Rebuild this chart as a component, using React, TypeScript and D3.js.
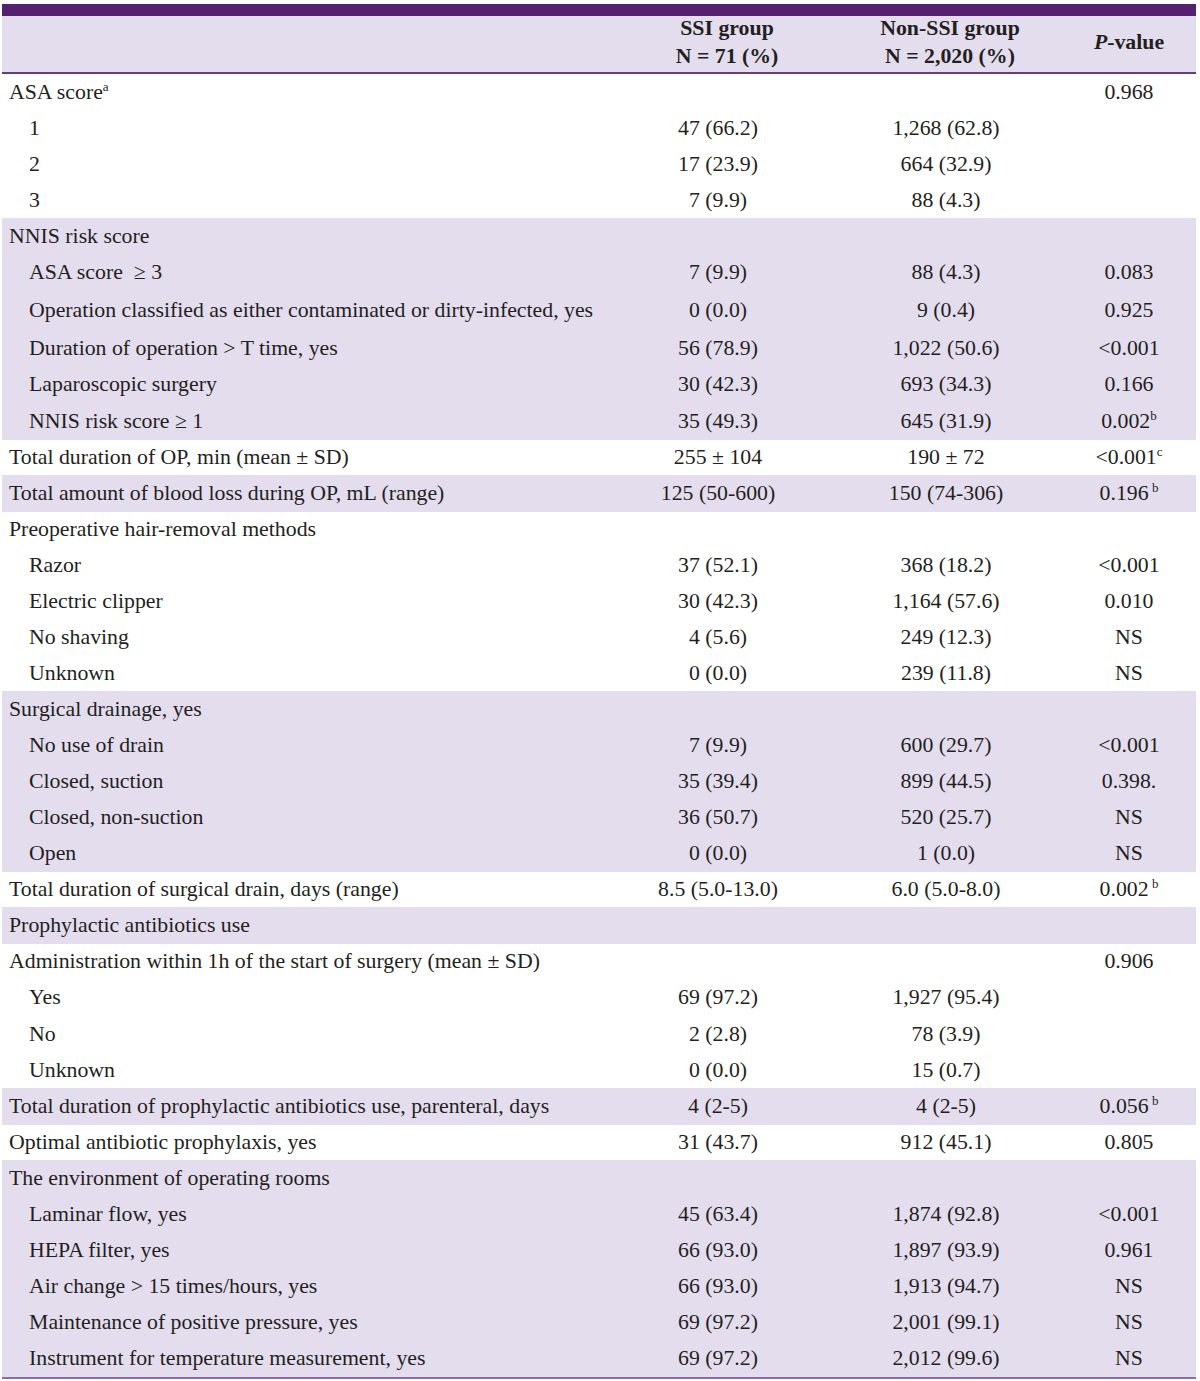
import { useEffect, useRef } from 'react';
import * as d3 from 'd3';

// Table content
const labels = [
  'ASA score', '1', '2', '3',
  'NNIS risk score', 'ASA score \u00a0≥ 3', 'Operation classified as either contaminated or dirty-infected, yes',
  'Duration of operation > T time, yes', 'Laparoscopic surgery', 'NNIS risk score ≥ 1',
  'Total duration of OP, min (mean ± SD)', 'Total amount of blood loss during OP, mL (range)',
  'Preoperative hair-removal methods', 'Razor', 'Electric clipper', 'No shaving', 'Unknown',
  'Surgical drainage, yes', 'No use of drain', 'Closed, suction', 'Closed, non-suction', 'Open',
  'Total duration of surgical drain, days (range)', 'Prophylactic antibiotics use',
  'Administration within 1h of the start of surgery (mean ± SD)', 'Yes', 'No', 'Unknown',
  'Total duration of prophylactic antibiotics use, parenteral, days', 'Optimal antibiotic prophylaxis, yes',
  'The environment of operating rooms', 'Laminar flow, yes', 'HEPA filter, yes',
  'Air change > 15 times/hours, yes', 'Maintenance of positive pressure, yes',
  'Instrument for temperature measurement, yes',
];
const labelNotes = ['a', ...Array(35).fill('')];
const levels = [0, 1, 1, 1, 0, 1, 1, 1, 1, 1, 0, 0, 0, 1, 1, 1, 1, 0, 1, 1, 1, 1, 0, 0, 0, 1, 1, 1, 0, 0, 0, 1, 1, 1, 1, 1];

const ssiValues = [
  '', '47 (66.2)', '17 (23.9)', '7 (9.9)', '', '7 (9.9)', '0 (0.0)', '56 (78.9)', '30 (42.3)', '35 (49.3)',
  '255 ± 104', '125 (50-600)', '', '37 (52.1)', '30 (42.3)', '4 (5.6)', '0 (0.0)', '', '7 (9.9)',
  '35 (39.4)', '36 (50.7)', '0 (0.0)', '8.5 (5.0-13.0)', '', '', '69 (97.2)', '2 (2.8)', '0 (0.0)',
  '4 (2-5)', '31 (43.7)', '', '45 (63.4)', '66 (93.0)', '66 (93.0)', '69 (97.2)', '69 (97.2)',
];
const nonSsiValues = [
  '', '1,268 (62.8)', '664 (32.9)', '88 (4.3)', '', '88 (4.3)', '9 (0.4)', '1,022 (50.6)', '693 (34.3)',
  '645 (31.9)', '190 ± 72', '150 (74-306)', '', '368 (18.2)', '1,164 (57.6)', '249 (12.3)', '239 (11.8)',
  '', '600 (29.7)', '899 (44.5)', '520 (25.7)', '1 (0.0)', '6.0 (5.0-8.0)', '', '', '1,927 (95.4)',
  '78 (3.9)', '15 (0.7)', '4 (2-5)', '912 (45.1)', '', '1,874 (92.8)', '1,897 (93.9)', '1,913 (94.7)',
  '2,001 (99.1)', '2,012 (99.6)',
];
const pValues = [
  '0.968', '', '', '', '', '0.083', '0.925', '<0.001', '0.166', '0.002', '<0.001', '0.196', '',
  '<0.001', '0.010', 'NS', 'NS', '', '<0.001', '0.398.', 'NS', 'NS', '0.002', '', '0.906', '', '', '',
  '0.056', '0.805', '', '<0.001', '0.961', 'NS', 'NS', 'NS',
];
const pNotes = [
  '', '', '', '', '', '', '', '', '', 'b', 'c', ' b', '', '', '', '', '', '', '', '', '', '', ' b', '', '', '', '', '',
  ' b', '', '', '', '', '', '', '',
];
const shadedRows = [4, 5, 6, 7, 8, 9, 11, 17, 18, 19, 20, 21, 23, 28, 30, 31, 32, 33, 34, 35];

const DARK = '#55216f';
const LIGHT = '#e4ddee';
const INK = '#231f20';
const FONT = '"Liberation Serif", "Times New Roman", serif';
const SIZE = 21.8;

export default function App() {
  const svgRef = useRef<SVGSVGElement>(null);

  useEffect(() => {
    document.body.style.margin = '0';
    if (!svgRef.current) return;
    const svg = d3.select(svgRef.current);
    svg.selectAll('*').remove();

    const left = 2;
    const right = 1196;
    const headTop = 16;
    const headBottom = 73;

    // row heights (the "Operation classified" row is a touch taller); snap edges to whole pixels
    const rawHeights = labels.map((_, i) => (i === 6 ? 40 : 36.06));
    const edges = [0, ...d3.cumsum(rawHeights)].map(v => Math.round(headBottom + 1 + v));
    const tops = edges.slice(0, -1);
    const heights = tops.map((t, i) => edges[i + 1] - t);

    const colX = { label: [9, 29], ssi: 718, non: 946, p: 1129 };

    // header
    svg.append('rect').attr('x', left).attr('y', headTop).attr('width', right - left)
      .attr('height', headBottom - headTop).attr('fill', LIGHT);
    svg.append('rect').attr('x', left).attr('y', 4).attr('width', right - left)
      .attr('height', 12).attr('fill', DARK);
    svg.append('rect').attr('x', left).attr('y', headBottom - 1).attr('width', right - left)
      .attr('height', 2).attr('fill', '#6a3a85');

    // shaded rows
    svg.selectAll('rect.band')
      .data(shadedRows)
      .enter()
      .append('rect')
      .attr('class', 'band')
      .attr('x', left)
      .attr('y', i => tops[i])
      .attr('width', right - left)
      .attr('height', i => heights[i] + 0.5)
      .attr('shape-rendering', 'crispEdges')
      .attr('fill', LIGHT);

    const bottom = edges[edges.length - 1];
    svg.append('rect').attr('x', left).attr('y', bottom + 1).attr('width', right - left)
      .attr('height', 2).attr('fill', '#8f6aa8');

    const head = svg.append('g').attr('font-family', FONT).attr('font-size', SIZE)
      .attr('font-weight', 'bold').attr('fill', INK).attr('text-anchor', 'middle');
    head.append('text').attr('x', 727).attr('y', 35).text('SSI group');
    head.append('text').attr('x', 727).attr('y', 63).text('N = 71 (%)');
    head.append('text').attr('x', 950).attr('y', 35).text('Non-SSI group');
    head.append('text').attr('x', 950).attr('y', 63).text('N = 2,020 (%)');
    const pHead = head.append('text').attr('x', 1129).attr('y', 49);
    pHead.append('tspan').attr('font-style', 'italic').text('P');
    pHead.append('tspan').text('-value');

    const body = svg.append('g').attr('font-family', FONT).attr('font-size', SIZE).attr('fill', INK);
    const rows = body.selectAll('g.row')
      .data(labels.map((l, i) => i))
      .enter()
      .append('g')
      .attr('class', 'row')
      .attr('transform', i => `translate(0, ${tops[i] + heights[i] / 2 + 7})`);

    const lab = rows.append('text')
      .attr('x', i => colX.label[levels[i]])
      .attr('xml:space', 'preserve');
    lab.append('tspan').text(i => labels[i]);
    lab.append('tspan').attr('font-size', 13).attr('dy', -8).text(i => labelNotes[i]);

    rows.append('text').attr('x', colX.ssi).attr('text-anchor', 'middle').text(i => ssiValues[i]);
    rows.append('text').attr('x', colX.non).attr('text-anchor', 'middle').text(i => nonSsiValues[i]);

    const pt = rows.append('text').attr('x', colX.p).attr('text-anchor', 'middle')
      .attr('xml:space', 'preserve');
    pt.append('tspan').text(i => pValues[i]);
    pt.append('tspan').attr('font-size', 13).attr('dy', -8).text(i => pNotes[i].replace(' ', '\u00a0'));
  }, []);

  return <svg ref={svgRef} width={1200} height={1381} style={{ display: 'block', background: '#fff' }} />;
}
